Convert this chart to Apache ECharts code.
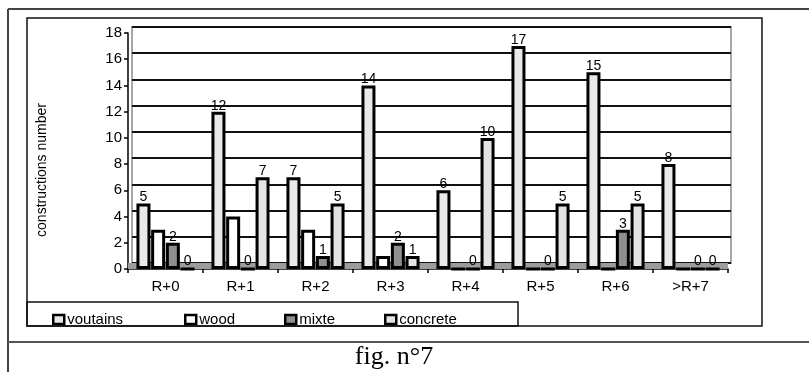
<!DOCTYPE html>
<html>
<head>
<meta charset="utf-8">
<script src="https://cdn.jsdelivr.net/npm/echarts@6/dist/echarts.min.js"></script>
<style>
  html, body { margin: 0; padding: 0; background: #fff; }
  #chart { width: 809px; height: 372px; }
</style>
</head>
<body>
<div id="chart"></div>
<script>
// Number of constructions per storey count, by structure type
const categories = ['R+0', 'R+1', 'R+2', 'R+3', 'R+4', 'R+5', 'R+6', '>R+7'];
const voutains = [5, 12, 7, 14, 6, 17, 15, 8];
const wood = [3, 4, 3, 1, 0, 0, 0, 0];
const mixte = [2, 0, 1, 2, 0, 0, 3, 0];
const concrete = [0, 7, 5, 1, 10, 5, 5, 0];
const yMin = 0, yMax = 18, yStep = 2;
const seriesNames = ['voutains', 'wood', 'mixte', 'concrete'];
const axisTitle = 'constructions number';
const caption = 'fig. n°7';

const fills = { voutains: '#e9e9e9', wood: '#ffffff', mixte: '#8f8f8f', concrete: '#e4e4e4' };
const font = 'Liberation Sans, Arial, sans-serif';

const chart = echarts.init(document.getElementById('chart'), null, { renderer: 'canvas' });

function barSeries(name, values, showLabel, extra) {
  return Object.assign({
    name: name,
    type: 'bar',
    xAxisIndex: 0,
    yAxisIndex: 0,
    data: values,
    barWidth: 14,
    barGap: '5%',
    itemStyle: { color: fills[name], borderColor: '#000', borderWidth: 3 },
    label: {
      show: showLabel,
      position: 'top',
      distance: -1,
      color: '#000',
      fontFamily: font,
      fontSize: 14
    },
    emphasis: { disabled: true },
    animation: false
  }, extra || {});
}

const legendLefts = [47, 179, 279, 379];

chart.setOption({
  animation: false,
  backgroundColor: '#fff',
  grid: [
    // front plane: bars and axes
    { left: 128, right: 81, top: 33, bottom: 103, containLabel: false },
    // back wall: gridlines, drawn slightly up and right for depth
    { left: 132, right: 78, top: 27, bottom: 109, containLabel: false,
      show: true, borderColor: '#a8a8a8', borderWidth: 2, backgroundColor: '#fff', z: 0 }
  ],
  xAxis: [
    {
      type: 'category', gridIndex: 0, data: categories,
      axisLine: { show: true, lineStyle: { color: '#000', width: 1.5 } },
      axisTick: { show: true, length: 4, lineStyle: { color: '#000', width: 1.5 } },
      axisLabel: { color: '#000', fontFamily: font, fontSize: 15, margin: 10 },
      splitLine: { show: false }
    },
    {
      type: 'category', gridIndex: 1, data: categories, show: false
    }
  ],
  yAxis: [
    {
      type: 'value', gridIndex: 0, min: yMin, max: yMax, interval: yStep,
      axisLine: { show: true, lineStyle: { color: '#000', width: 1.5 } },
      axisTick: { show: true, length: 4, lineStyle: { color: '#000', width: 1.5 } },
      axisLabel: { color: '#000', fontFamily: font, fontSize: 15, margin: 6 },
      splitLine: { show: false }
    },
    {
      type: 'value', gridIndex: 1, min: yMin, max: yMax, interval: yStep,
      axisLine: { show: false }, axisTick: { show: false }, axisLabel: { show: false },
      splitLine: { show: true, lineStyle: { color: '#111', width: 2 } }
    }
  ],
  legend: seriesNames.map((n, i) => ({
    data: [n],
    left: legendLefts[i],
    top: 307,
    orient: 'horizontal',
    icon: 'rect',
    itemWidth: 11,
    itemHeight: 9,
    itemGap: 4,
    selectedMode: false,
    textStyle: { color: '#000', fontFamily: font, fontSize: 15, padding: [0, 0, 0, -2] },
    itemStyle: { borderColor: '#000', borderWidth: 2.5 }
  })),
  series: [
    barSeries('voutains', voutains, true, {
      markArea: {
        silent: true,
        itemStyle: { color: '#9c9c9c' },
        data: [[{ yAxis: 0 }, { yAxis: 0.45 }]]
      }
    }),
    barSeries('wood', wood, false),
    barSeries('mixte', mixte, true),
    barSeries('concrete', concrete, true)
  ],
  graphic: [
    // page frame
    { type: 'line', shape: { x1: 8, y1: 9, x2: 809, y2: 9 }, style: { stroke: '#444', lineWidth: 2 } },
    { type: 'line', shape: { x1: 8, y1: 9, x2: 8, y2: 372 }, style: { stroke: '#444', lineWidth: 2 } },
    { type: 'line', shape: { x1: 8, y1: 342, x2: 809, y2: 342 }, style: { stroke: '#555', lineWidth: 2 } },
    // chart box
    { type: 'rect', shape: { x: 27, y: 18, width: 735, height: 308 }, style: { fill: 'none', stroke: '#111', lineWidth: 1.5 }, z: 10 },
    // legend box
    { type: 'rect', shape: { x: 27, y: 302, width: 491, height: 24 }, style: { fill: 'none', stroke: '#111', lineWidth: 1.5 }, z: 10 },
    // axis title
    { type: 'text', x: 42, y: 170, rotation: Math.PI / 2,
      style: { text: axisTitle, fill: '#000', font: '14px ' + font, align: 'center', verticalAlign: 'middle' } },
    // caption
    { type: 'text', x: 394, y: 357,
      style: { text: caption, fill: '#000', font: '26px Liberation Serif, Times New Roman, serif', align: 'center', verticalAlign: 'middle' } }
  ]
});
</script>
</body>
</html>
